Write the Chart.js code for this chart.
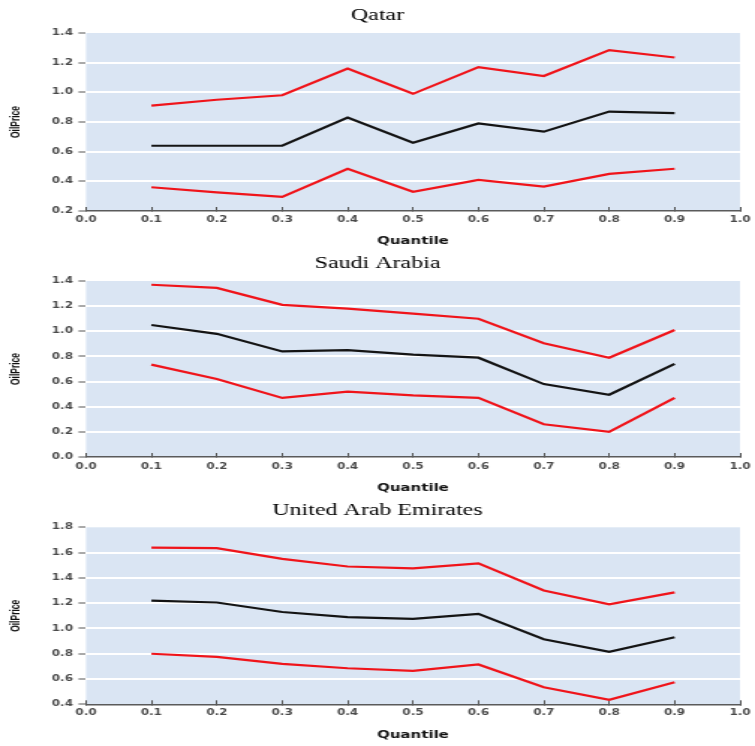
<!DOCTYPE html>
<html>
<head>
<meta charset="utf-8">
<script src="https://cdn.jsdelivr.net/npm/chart.js@4.4.1/dist/chart.umd.min.js"></script>
<style>
  html, body { margin: 0; padding: 0; background: #ffffff; overflow: hidden; }
  body { width: 755px; height: 746px; position: relative; }
  .panel { position: absolute; left: 0; width: 504px; height: 249px; transform: scaleX(1.498); transform-origin: 0 0; }
</style>
</head>
<body>
<div class="panel" style="top:0px"><canvas id="c1"></canvas></div>
<div class="panel" style="top:248px"><canvas id="c2"></canvas></div>
<div class="panel" style="top:497px"><canvas id="c3"></canvas></div>
<script>
// ---- data ----
const quantiles = [0.1, 0.2, 0.3, 0.4, 0.5, 0.6, 0.7, 0.8, 0.9];
const xTicks = [0.0, 0.1, 0.2, 0.3, 0.4, 0.5, 0.6, 0.7, 0.8, 0.9, 1.0];

const qatarUpper = [0.91, 0.95, 0.98, 1.16, 0.99, 1.17, 1.11, 1.285, 1.235];
const qatarMid   = [0.64, 0.64, 0.64, 0.83, 0.66, 0.79, 0.735, 0.87, 0.86];
const qatarLower = [0.36, 0.325, 0.295, 0.485, 0.33, 0.41, 0.365, 0.45, 0.485];

const saudiUpper = [1.37, 1.345, 1.21, 1.18, 1.14, 1.10, 0.905, 0.79, 1.01];
const saudiMid   = [1.05, 0.98, 0.84, 0.85, 0.815, 0.79, 0.58, 0.495, 0.74];
const saudiLower = [0.735, 0.62, 0.47, 0.52, 0.49, 0.47, 0.26, 0.20, 0.47];

const uaeUpper = [1.64, 1.635, 1.55, 1.49, 1.475, 1.515, 1.30, 1.19, 1.285];
const uaeMid   = [1.22, 1.205, 1.13, 1.09, 1.075, 1.115, 0.915, 0.815, 0.93];
const uaeLower = [0.80, 0.775, 0.72, 0.685, 0.665, 0.715, 0.535, 0.435, 0.575];

const qatarYTicks = [0.2, 0.4, 0.6, 0.8, 1.0, 1.2, 1.4];
const saudiYTicks = [0.0, 0.2, 0.4, 0.6, 0.8, 1.0, 1.2, 1.4];
const uaeYTicks   = [0.4, 0.6, 0.8, 1.0, 1.2, 1.4, 1.6, 1.8];

const titles = ['Qatar', 'Saudi Arabia', 'United Arab Emirates'];

// ---- styling ----
const RED = '#f0141a';
const BLACK = '#141414';
const PLOT_BG = '#dae5f3';

const plotBg = {
  id: 'plotBg',
  beforeDraw(chart) {
    const a = chart.chartArea;
    const ctx = chart.ctx;
    ctx.save();
    ctx.fillStyle = PLOT_BG;
    ctx.fillRect(a.left, a.top, a.right - a.left, a.bottom - a.top);
    ctx.restore();
  }
};

function pts(vals) {
  return quantiles.map((q, i) => ({ x: q, y: vals[i] }));
}

function makeChart(id, title, upper, mid, lower, yTicks, lay) {
  const yMin = yTicks[0], yMax = yTicks[yTicks.length - 1];
  const ds = (vals, color) => ({
    data: pts(vals), borderColor: color, borderWidth: 2.2, pointRadius: 0,
    fill: false, tension: 0
  });
  return new Chart(document.getElementById(id), {
    type: 'line',
    data: { datasets: [ds(upper, RED), ds(mid, BLACK), ds(lower, RED)] },
    options: {
      responsive: true,
      maintainAspectRatio: false,
      animation: false,
      events: [],
      layout: { padding: { left: 0, right: 0, top: 0, bottom: 0 } },
      plugins: {
        legend: { display: false },
        tooltip: { enabled: false },
        title: {
          display: true, text: title, color: '#000',
          font: { family: '"Liberation Serif", "Times New Roman", serif', size: 16, weight: 'normal' },
          padding: { top: lay.tTop, bottom: lay.tBottom }
        }
      },
      scales: {
        x: {
          type: 'linear', min: 0, max: 1,
          afterBuildTicks: (s) => { s.ticks = xTicks.map(v => ({ value: v })); },
          afterFit: (s) => { s.height = lay.xH; s.paddingRight = 10; s.paddingLeft = 0; },
          ticks: {
            autoSkip: false, maxRotation: 0, minRotation: 0, padding: lay.xPad,
            color: '#4a4a4a',
            font: { family: '"DejaVu Sans", Verdana, sans-serif', size: 8, weight: 'bold' },
            callback: (v) => Number(v).toFixed(1)
          },
          grid: { drawOnChartArea: false, drawTicks: true, tickLength: -4, tickColor: '#555', tickWidth: 1 },
          border: { display: true, color: '#5a5a5a', width: 1.5 },
          title: {
            display: true, text: 'Quantile', color: '#111',
            font: { family: '"DejaVu Sans", Verdana, sans-serif', size: 10, weight: 'bold' },
            padding: { top: 0, bottom: lay.qPad }
          }
        },
        y: {
          type: 'linear', min: yMin, max: yMax,
          afterBuildTicks: (s) => { s.ticks = yTicks.map(v => ({ value: v })); },
          afterFit: (s) => { s.width = 57.4; },
          ticks: {
            padding: 3.7, color: '#4a4a4a',
            font: { family: '"DejaVu Sans", Verdana, sans-serif', size: 8, weight: 'bold' },
            callback: (v) => Number(v).toFixed(1)
          },
          grid: {
            color: (c) => (c.tick && (Math.abs(c.tick.value - yMin) < 1e-9 || Math.abs(c.tick.value - yMax) < 1e-9)) ? 'rgba(0,0,0,0)' : '#ffffff',
            lineWidth: 2, drawTicks: true, tickLength: 5, tickColor: '#555', tickWidth: 1
          },
          border: { display: false },
          title: {
            display: true, text: 'OilPrice', color: '#111',
            font: { family: '"Liberation Sans", Arial, sans-serif', size: 8.5, weight: 'bold' },
            padding: { top: 5.5, bottom: 0 }
          }
        }
      }
    },
    plugins: [plotBg]
  });
}

makeChart('c1', titles[0], qatarUpper, qatarMid, qatarLower, qatarYTicks,
  { tTop: 6, tBottom: 7.8, xH: 38, xPad: 8.2, qPad: 2 });
makeChart('c2', titles[1], saudiUpper, saudiMid, saudiLower, saudiYTicks,
  { tTop: 6, tBottom: 7.8, xH: 40, xPad: 9.2, qPad: 3 });
makeChart('c3', titles[2], uaeUpper, uaeMid, uaeLower, uaeYTicks,
  { tTop: 4, tBottom: 7.1, xH: 41.7, xPad: 7.9, qPad: 5 });
</script>
</body>
</html>
